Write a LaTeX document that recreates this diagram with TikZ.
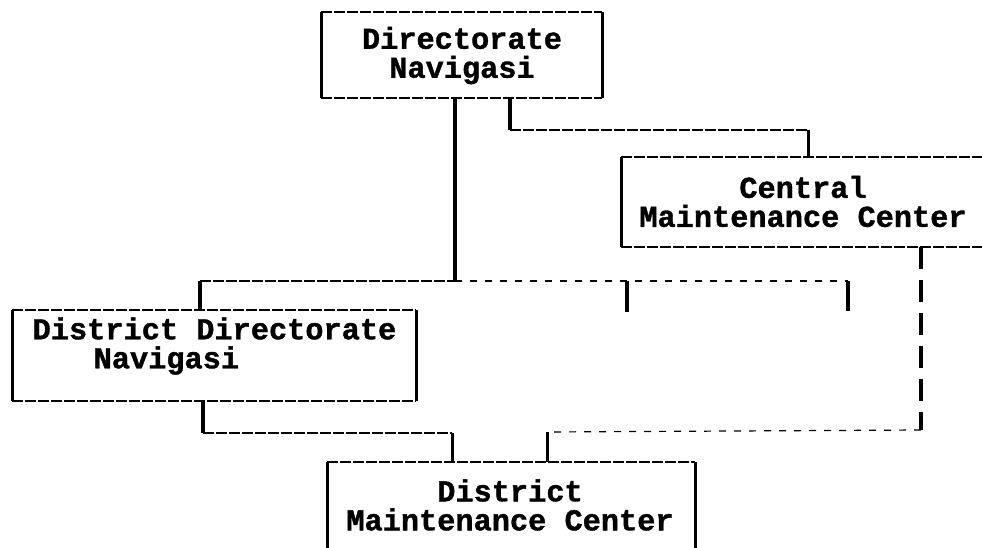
\documentclass[tikz,border=0pt]{standalone}
\usepackage{fontspec}
\setmonofont{Liberation Mono}
\newfontfamily\boxfont[FakeBold=1.2]{Liberation Mono Bold}
\begin{document}
\begin{tikzpicture}[x=1pt,y=-1pt,
  boxshape/.style={draw=none,inner sep=0pt,outer sep=0pt,rectangle},
  lbl/.style={inner sep=0pt,align=center,font=\boxfont\fontsize{30.3}{29}\selectfont},
  hline/.style={line width=1.5pt,dash pattern=on 11pt off 2pt},
  faint/.style={line width=1.2pt,dash pattern=on 7pt off 8pt},
  vline/.style={line width=4pt},
  sideline/.style={line width=3pt},
  dvline/.style={line width=3.5pt,dash pattern=on 22pt off 11pt}]
\useasboundingbox (0,0) rectangle (982,548);
\clip (0,0) rectangle (982,548);

% boxes
\node[boxshape,minimum width=281pt,minimum height=86pt] (top) at (461.5,55) {};
\node[boxshape,minimum width=364pt,minimum height=90pt] (cmc) at (803,202) {};
\node[boxshape,minimum width=404pt,minimum height=91pt] (dd) at (214,355.5) {};
\node[boxshape,minimum width=368pt,minimum height=90pt] (dm) at (511,507) {};

\foreach \b in {top,cmc,dd,dm}{
  \draw[hline] (\b.north west) -- (\b.north east);
  \draw[hline] (\b.south west) -- (\b.south east);
  \draw[sideline] (\b.north west) -- (\b.south west);
  \draw[sideline] (\b.north east) -- (\b.south east);
}

% labels
\node[lbl] (toptext) at (462,55.5) {Directorate\\Navigasi};
\node[lbl] (cmctext) at (803,201.5) {Central\\Maintenance Center};
\node[lbl,align=left] (ddtext) at (214.5,346) {District Directorate\\\hspace*{61pt}Navigasi};
\node[lbl] (dmtext) at (510,505) {District\\Maintenance Center};

% junction coordinates
\coordinate (j1) at (455,281);
\coordinate (b1) at (200,281);
\coordinate (b2) at (627,281);
\coordinate (b3) at (848,281);
\coordinate (s2) at (627,312);
\coordinate (s3) at (848,311);
\coordinate (c1) at (510,130);
\coordinate (c2) at (808,130);
\coordinate (d1) at (203,433);
\coordinate (d2) at (452,433);
\coordinate (e1) at (547,432);
\coordinate (e2) at (921,430);

% top box to bus
\draw[vline] (j1 |- top.south) -- (j1);
\draw[hline] (b1) -- (j1);
\draw[faint] (j1) -- (b3);
\draw[vline] (b1) -- (b1 |- dd.north);
\draw[vline] (b2) -- (s2);
\draw[vline] (b3) -- (s3);

% top box to central
\draw[vline] (c1 |- top.south) -- (c1);
\draw[hline] (c1) -- (c2);
\draw[sideline] (c2) -- (c2 |- cmc.north);

% central down to district maintenance
\draw[dvline] (e2 |- cmc.south) -- (e2);
\draw[faint] (e2) -- (e1);
\draw[sideline] (e1) -- (e1 |- dm.north);

% district directorate to district maintenance
\draw[vline] (d1 |- dd.south) -- (d1);
\draw[hline] (d1) -- (d2);
\draw[sideline] (d2) -- (d2 |- dm.north);
\end{tikzpicture}
\end{document}
